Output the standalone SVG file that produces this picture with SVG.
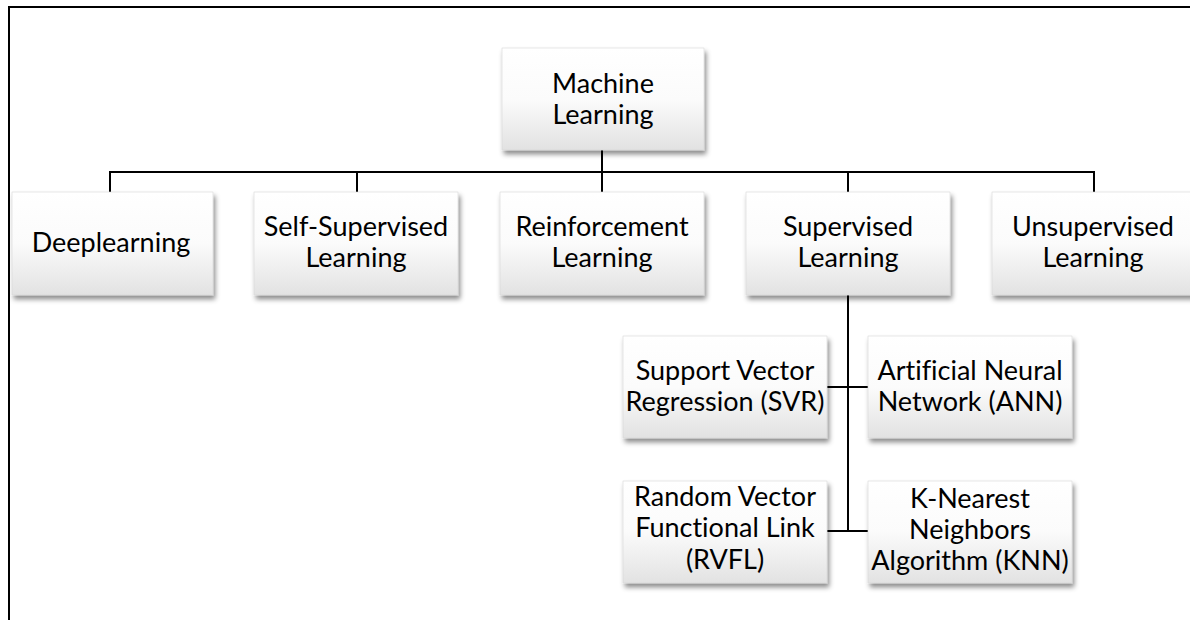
<svg xmlns="http://www.w3.org/2000/svg" width="1190" height="620" viewBox="0 0 1190 620">
<defs>
<linearGradient id="g" x1="0" y1="0" x2="0" y2="1">
<stop offset="0" stop-color="#ffffff"/>
<stop offset="0.5" stop-color="#fbfbfb"/>
<stop offset="1" stop-color="#e2e2e2"/>
</linearGradient>
<filter id="sh" x="-10%" y="-10%" width="125%" height="130%">
<feDropShadow dx="2" dy="4" stdDeviation="2.5" flood-color="#000" flood-opacity="0.45"/>
</filter>
</defs>
<style>
.box{fill:url(#g);stroke:#d8d8d8;stroke-width:0.6;filter:url(#sh)}
.t{font-family:Lato,"Liberation Sans",sans-serif;font-size:27px;fill:#000;text-anchor:middle;font-variant-ligatures:none}
.c{stroke:#000;stroke-width:2;fill:none}
.f{stroke:#000;stroke-width:2;fill:none}
</style>
<rect width="1190" height="620" fill="#fff"/>
<g id="frame">
<path class="f" d="M9 620 V7 H1190"/>
</g>
<g id="connectors">
<path class="c" d="M602 150 V172"/>
<path class="c" d="M110 192 V172 H1094 V192"/>
<path class="c" d="M357 172 V192"/>
<path class="c" d="M602 172 V192"/>
<path class="c" d="M848 172 V192"/>
<path class="c" d="M848 295 V531"/>
<path class="c" d="M827 387 H868"/>
<path class="c" d="M827 531 H868"/>
</g>
<g id="ml">
<rect class="box" x="502" y="48" width="202" height="102"/>
<text class="t" x="603" y="93">Machine</text>
<text class="t" x="603" y="124">Learning</text>
</g>
<g id="deep">
<rect class="box" x="12" y="192" width="201" height="103"/>
<text class="t" x="111" y="252">Deeplearning</text>
</g>
<g id="self">
<rect class="box" x="254" y="192" width="204" height="103"/>
<text class="t" x="356" y="236">Self-Supervised</text>
<text class="t" x="356" y="267">Learning</text>
</g>
<g id="reinf">
<rect class="box" x="500" y="192" width="204" height="103"/>
<text class="t" x="602" y="236">Reinforcement</text>
<text class="t" x="602" y="267">Learning</text>
</g>
<g id="sup">
<rect class="box" x="746" y="192" width="204" height="103"/>
<text class="t" x="848" y="236">Supervised</text>
<text class="t" x="848" y="267">Learning</text>
</g>
<g id="unsup">
<rect class="box" x="992" y="192" width="204" height="103"/>
<text class="t" x="1093" y="236">Unsupervised</text>
<text class="t" x="1093" y="267">Learning</text>
</g>
<g id="svr">
<rect class="box" x="623" y="336" width="204" height="102"/>
<text class="t" x="725" y="380">Support Vector</text>
<text class="t" x="725" y="411">Regression (SVR)</text>
</g>
<g id="ann">
<rect class="box" x="868" y="336" width="204" height="102"/>
<text class="t" x="970" y="380">Artificial Neural</text>
<text class="t" x="970" y="411">Network (ANN)</text>
</g>
<g id="rvfl">
<rect class="box" x="623" y="481" width="204" height="102"/>
<text class="t" x="725" y="506">Random Vector</text>
<text class="t" x="725" y="537">Functional Link</text>
<text class="t" x="725" y="569">(RVFL)</text>
</g>
<g id="knn">
<rect class="box" x="868" y="481" width="204" height="102"/>
<text class="t" x="970" y="508">K-Nearest</text>
<text class="t" x="970" y="539">Neighbors</text>
<text class="t" x="970" y="570">Algorithm (KNN)</text>
</g>
</svg>
